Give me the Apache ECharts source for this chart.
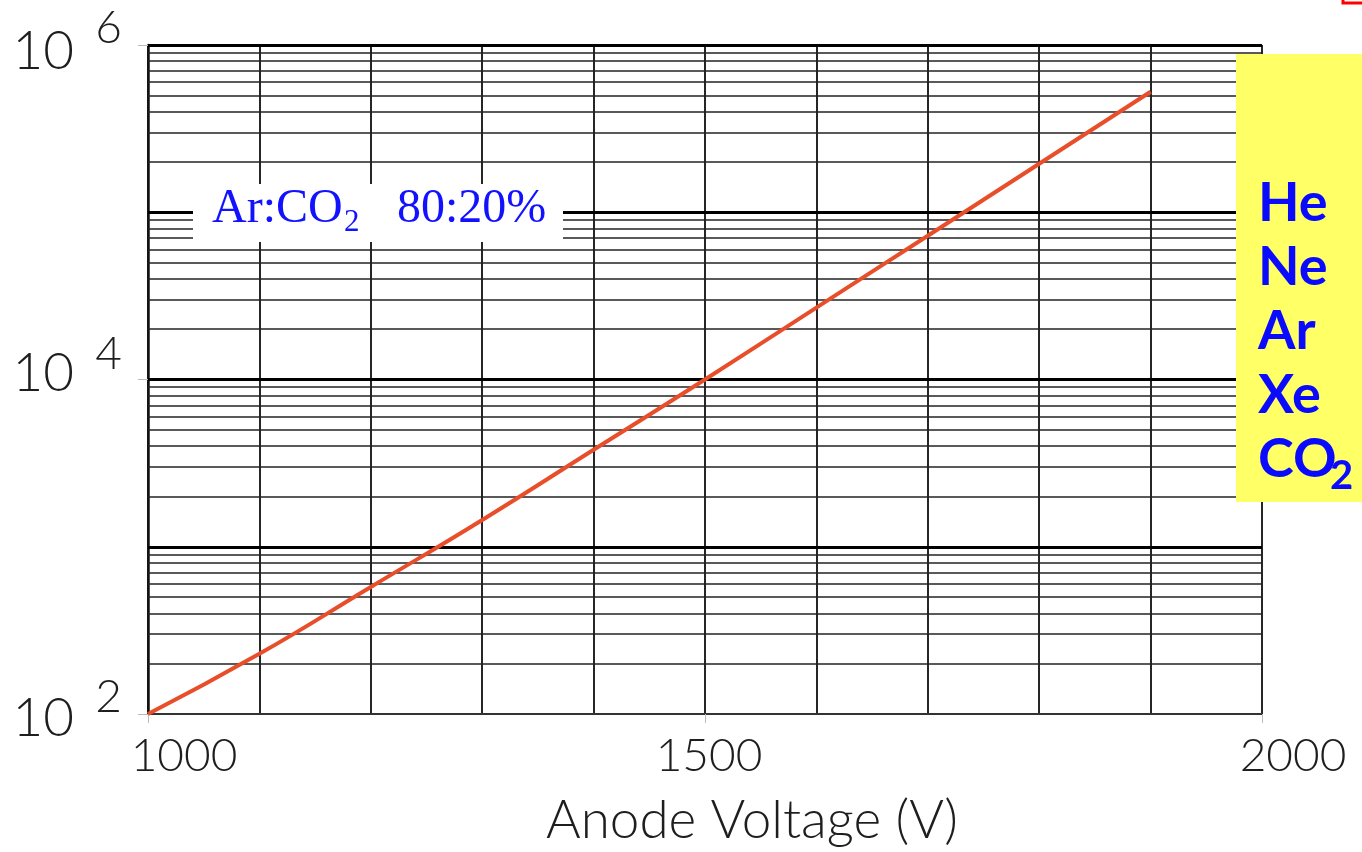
<!DOCTYPE html>
<html>
<head>
<meta charset="utf-8">
<script src="https://cdn.jsdelivr.net/npm/echarts@6/dist/echarts.min.js"></script>
<style>
  html, body { margin: 0; padding: 0; background: #fff; }
  #chart { width: 1362px; height: 852px; }
</style>
</head>
<body>
<div id="chart"></div>
<script>
// Gas gain vs. anode voltage for Ar:CO2 80:20%
const voltages = [1000, 1100, 1200, 1300, 1400, 1500, 1600, 1700, 1800, 1900];
const gains = [100, 229, 575, 1445, 3800, 10000, 26900, 72400, 195000, 525000];
const xTickLabels = [1000, 1500, 2000];
const yDecadeExponents = [2, 4, 6];
const gasNames = ['He', 'Ne', 'Ar', 'Xe', 'CO'];
const mixtureName = 'Ar:CO';
const mixtureRatio = '80:20%';
const xTitle = 'Anode Voltage (V)';

// log-paper rulings: 2..9 within each decade, heavier lines at each power of ten
const minorRulings = [];
const decadeRulings = [];
for (let d = 2; d < 6; d++) {
  for (let m = 2; m <= 9; m++) minorRulings.push(m * Math.pow(10, d));
  if (d > 2) decadeRulings.push(Math.pow(10, d));
}
decadeRulings.push(1e6);

const handFont = 'Lato';
const inkColor = '#1e1e1e';

// per-label nudges, in px (dx for x labels, dy for y labels)
const xLabelShift = { 1000: 36, 1500: 4, 2000: 31 };
const baseShift = { 2: 5, 4: -6, 6: 7 };
const expShift = { 2: -17, 4: -25, 6: -17 };

function padFor(dy, dx) {
  const top = dy > 0 ? 2 * dy : 0;
  const bottom = dy < 0 ? -2 * dy : 0;
  const left = dx > 0 ? 2 * dx : 0;
  const right = dx < 0 ? -2 * dx : 0;
  return [top, right, bottom, left];
}

const xRich = {};
xTickLabels.forEach(v => {
  xRich['x' + v] = { fontFamily: handFont, fontWeight: 300, fontSize: 46, color: inkColor,
                     padding: padFor(0, xLabelShift[v]) };
});
const baseRich = {};
const expRich = {};
yDecadeExponents.forEach(e => {
  baseRich['b' + e] = { fontFamily: handFont, fontWeight: 300, fontSize: 53, color: inkColor,
                        padding: padFor(baseShift[e], 0) };
  expRich['e' + e] = { fontFamily: handFont, fontWeight: 300, fontSize: 46, color: inkColor,
                       padding: padFor(expShift[e], 0) };
});

const chart = echarts.init(document.getElementById('chart'), null, { renderer: 'canvas' });

const rulingLines = minorRulings.map(v => ({ yAxis: v, lineStyle: { color: '#222', width: 1.5, type: 'solid' } }))
  .concat(decadeRulings.map(v => ({ yAxis: v, lineStyle: { color: '#000', width: 3, type: 'solid' } })));

const serifFont = '"Liberation Serif", "Times New Roman", serif';
const noteFont = 'Lato, sans-serif';

const option = {
  animation: false,
  backgroundColor: '#ffffff',
  grid: { left: 148, top: 45, width: 1114, height: 669, containLabel: false },
  xAxis: {
    type: 'value',
    min: 1000,
    max: 2000,
    interval: 500,
    axisLine: { show: true, lineStyle: { color: '#333', width: 2 } },
    axisTick: { show: true, length: 9, lineStyle: { color: '#bbb', width: 1 } },
    minorTick: { show: false, splitNumber: 5 },
    splitLine: { show: true, lineStyle: { color: '#262626', width: 2 } },
    minorSplitLine: { show: true, lineStyle: { color: '#262626', width: 2 } },
    axisLabel: {
      show: true,
      margin: 19,
      showMinLabel: true,
      showMaxLabel: true,
      formatter: v => '{x' + v + '|' + v + '}',
      rich: xRich
    },
    name: xTitle,
    nameLocation: 'middle',
    nameGap: 80,
    nameTextStyle: { fontFamily: handFont, fontWeight: 300, fontSize: 53, color: inkColor, padding: [0, 0, 0, 94] }
  },
  yAxis: [
    {
      type: 'log',
      logBase: 100,
      min: 100,
      max: 1e6,
      splitNumber: 2,
      position: 'left',
      axisLine: { show: true, lineStyle: { color: '#111', width: 2.5 } },
      axisTick: { show: true, length: 10, lineStyle: { color: '#bbb', width: 1 } },
      splitLine: { show: false },
      minorSplitLine: { show: false },
      axisLabel: {
        margin: 74,
        showMinLabel: true,
        showMaxLabel: true,
        formatter: v => '{b' + Math.round(Math.log10(v)) + '|10}',
        rich: baseRich
      }
    },
    {
      type: 'log',
      logBase: 100,
      min: 100,
      max: 1e6,
      splitNumber: 2,
      position: 'left',
      axisLine: { show: false },
      axisTick: { show: false },
      splitLine: { show: false },
      axisLabel: {
        margin: 26,
        showMinLabel: true,
        showMaxLabel: true,
        formatter: v => { const e = Math.round(Math.log10(v)); return '{e' + e + '|' + e + '}'; },
        rich: expRich
      }
    }
  ],
  series: [
    {
      name: 'rulings',
      type: 'line',
      data: [],
      z: 1,
      silent: true,
      markLine: {
        silent: true,
        symbol: ['none', 'none'],
        label: { show: false },
        emphasis: { disabled: true },
        animation: false,
        data: rulingLines
      }
    },
    {
      name: 'gain',
      type: 'line',
      z: 5,
      data: voltages.map((v, i) => [v, gains[i]]),
      showSymbol: false,
      smooth: true,
      lineStyle: { color: '#e84e2a', width: 4 },
      itemStyle: { color: '#e84e2a' }
    }
  ],
  graphic: [
    // mixture label on a white patch over the rulings
    { type: 'rect', z: 100, shape: { x: 193, y: 184, width: 370, height: 58 }, style: { fill: '#ffffff' } },
    { type: 'text', z: 101, x: 212, y: 185,
      style: { text: mixtureName, font: '48px ' + serifFont, fill: '#1212ff', verticalAlign: 'top' } },
    { type: 'text', z: 101, x: 344, y: 207,
      style: { text: '2', font: '31px ' + serifFont, fill: '#1212ff', verticalAlign: 'top' } },
    { type: 'text', z: 101, x: 397, y: 185,
      style: { text: mixtureRatio, font: '48px ' + serifFont, fill: '#1212ff', verticalAlign: 'top' } },
    // yellow note with the gas list
    { type: 'rect', z: 100, shape: { x: 1236, y: 54, width: 140, height: 448 }, style: { fill: '#ffff66' } }
  ].concat(gasNames.map((g, i) => ({
    type: 'text', z: 101, x: 1258, y: 177 + i * 64,
    style: { text: g, font: 'bold 54px ' + noteFont, fill: '#0a0aff', verticalAlign: 'top' }
  }))).concat([
    { type: 'text', z: 101, x: 1330, y: 456,
      style: { text: '2', font: 'bold 40px ' + noteFont, fill: '#0a0aff', verticalAlign: 'top' } },
    // red frame corner at the top right
    { type: 'rect', z: 100, shape: { x: 1343, y: -30, width: 40, height: 33 }, style: { fill: 'none', stroke: '#ff0000', lineWidth: 3 } }
  ])
};

chart.setOption(option);
</script>
</body>
</html>
